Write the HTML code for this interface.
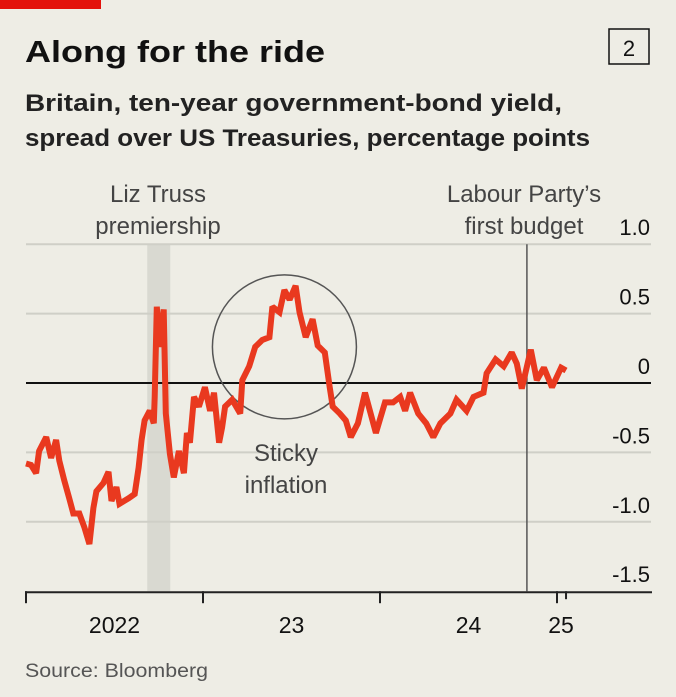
<!DOCTYPE html>
<html><head><meta charset="utf-8"><style>
html,body{margin:0;padding:0;background:#eeede5;}
svg{display:block;font-family:"Liberation Sans",sans-serif;}
</style></head><body>
<svg id="c" width="676" height="697" viewBox="0 0 676 697">
<rect width="676" height="697" fill="#eeede5"/>
<rect x="0" y="0" width="101" height="9" fill="#e3120b"/>
<text x="25" y="62" font-size="31" font-weight="bold" fill="#111" textLength="300" lengthAdjust="spacingAndGlyphs">Along for the ride</text>
<rect x="609" y="29" width="40" height="35" fill="none" stroke="#111" stroke-width="1.5"/>
<text x="629" y="56" font-size="22" text-anchor="middle" fill="#111">2</text>
<text x="25" y="111" font-size="24" font-weight="bold" fill="#222" textLength="537" lengthAdjust="spacingAndGlyphs">Britain, ten-year government-bond yield,</text>
<text x="25" y="146" font-size="24" font-weight="bold" fill="#222" textLength="565" lengthAdjust="spacingAndGlyphs">spread over US Treasuries, percentage points</text>
<g id="plot"></g>
<text x="25" y="677" font-size="19" fill="#555" textLength="183" lengthAdjust="spacingAndGlyphs">Source: Bloomberg</text>
</svg>
<script>
const dates=[2022.000,2022.028,2022.057,2022.074,2022.114,2022.142,2022.170,2022.188,2022.216,2022.244,2022.267,2022.301,2022.330,2022.358,2022.381,2022.398,2022.438,2022.466,2022.483,2022.511,2022.528,2022.580,2022.614,2022.636,2022.653,2022.670,2022.699,2022.722,2022.727,2022.739,2022.756,2022.778,2022.790,2022.813,2022.835,2022.864,2022.892,2022.909,2022.926,2022.949,2022.977,2023.011,2023.040,2023.062,2023.091,2023.108,2023.125,2023.165,2023.210,2023.222,2023.261,2023.295,2023.335,2023.375,2023.392,2023.432,2023.460,2023.489,2023.523,2023.545,2023.580,2023.619,2023.648,2023.688,2023.716,2023.733,2023.773,2023.807,2023.835,2023.875,2023.915,2023.943,2023.977,2024.028,2024.074,2024.114,2024.142,2024.170,2024.216,2024.261,2024.301,2024.341,2024.398,2024.432,2024.489,2024.528,2024.585,2024.602,2024.653,2024.699,2024.744,2024.773,2024.801,2024.852,2024.886,2024.926,2024.972,2025.023,2025.051];
const spread=[-0.58,-0.59,-0.65,-0.49,-0.39,-0.54,-0.41,-0.56,-0.70,-0.83,-0.94,-0.94,-1.04,-1.16,-0.90,-0.78,-0.72,-0.64,-0.85,-0.75,-0.87,-0.83,-0.80,-0.61,-0.41,-0.27,-0.20,-0.29,-0.10,0.55,0.26,0.53,-0.22,-0.51,-0.68,-0.49,-0.65,-0.36,-0.43,-0.10,-0.17,-0.03,-0.20,-0.07,-0.43,-0.32,-0.17,-0.12,-0.22,0.02,0.12,0.26,0.31,0.33,0.55,0.51,0.67,0.60,0.70,0.51,0.33,0.46,0.27,0.22,-0.03,-0.17,-0.22,-0.27,-0.39,-0.29,-0.07,-0.20,-0.36,-0.14,-0.14,-0.10,-0.20,-0.07,-0.22,-0.29,-0.39,-0.29,-0.22,-0.12,-0.20,-0.10,-0.07,0.07,0.17,0.12,0.22,0.14,-0.04,0.24,0.02,0.11,-0.03,0.11,0.09];
const yTicks=[1.0,0.5,0,-0.5,-1.0,-1.5];
const yTickLabels=["1.0","0.5","0","-0.5","-1.0","-1.5"];
const xTicks=[2022,2023,2024,2025];
const xTickLabels=["2022","23","24","25"];
const trussBand=[2022.685,2022.815];
const budgetDate=2024.83;

const NS="http://www.w3.org/2000/svg";
const X0=26,PX=177,Y0=383,PY=138.8;
const xs=d=>X0+(d-2022)*PX;
const ys=v=>Y0-v*PY;
const g=document.getElementById('plot');
function mk(t,a,p){const e=document.createElementNS(NS,t);for(const k in a)e.setAttribute(k,a[k]);(p||g).appendChild(e);return e;}

const band=mk('rect',{x:xs(trussBand[0]),y:ys(1.0),width:xs(trussBand[1])-xs(trussBand[0]),height:ys(-1.5)-ys(1.0),fill:'#d9d9d1'});



yTicks.forEach((v,i)=>{
  if(v===-1.5)return;
  const l=mk('line',{x1:X0,x2:651,y1:ys(v),y2:ys(v),stroke:v===0?'#111':'#cfcfc7','stroke-width':2});
  
  
});
yTicks.forEach((v,i)=>{
  const t=mk('text',{x:650,y:ys(v)-9,'font-size':22,'text-anchor':'end',fill:'#111'});
  t.textContent=yTickLabels[i];
  
  
});

const bl=mk('line',{x1:xs(budgetDate),x2:xs(budgetDate),y1:ys(1.0),y2:ys(-1.5),stroke:'#555','stroke-width':1.5});



const circ=mk('circle',{cx:xs(2023.46),cy:ys(0.26),r:72,fill:'none',stroke:'#555','stroke-width':1.5});



let d='';dates.forEach((dt,i)=>{d+=(i?'L':'M')+xs(dt).toFixed(1)+','+ys(spread[i]).toFixed(1);});
const line=mk('path',{d:d,fill:'none',stroke:'#e9391f','stroke-width':6,'stroke-linejoin':'miter','stroke-miterlimit':2});



const ax=mk('line',{x1:X0-1,x2:652,y1:ys(-1.5)+1,y2:ys(-1.5)+1,stroke:'#222','stroke-width':2});


xTicks.forEach((v,i)=>{
  const tk=mk('line',{x1:xs(v),x2:xs(v),y1:ys(-1.5),y2:ys(-1.5)+12,stroke:'#222','stroke-width':2});
  
  
  const cx=i<xTicks.length-1?(xs(v)+xs(xTicks[i+1]))/2:xs(v)+4;
  const t=mk('text',{x:cx,y:633,'font-size':23,'text-anchor':'middle',fill:'#111'});
  t.textContent=xTickLabels[i];
  
  
});
const et=mk('line',{x1:xs(dates[dates.length-1]),x2:xs(dates[dates.length-1]),y1:ys(-1.5),y2:ys(-1.5)+8,stroke:'#222','stroke-width':2});



function label(lines,x,y,name){
  lines.forEach((s,i)=>{
    const t=mk('text',{x:x,y:y+i*32,'font-size':24,'text-anchor':'middle',fill:'#444'});
    t.textContent=s;
    
    
  });
}
label(['Liz Truss','premiership'],158,202,'truss-annotation');
label(['Labour Party’s','first budget'],524,202,'budget-annotation');
label(['Sticky','inflation'],286,461,'sticky-inflation-annotation');
</script>
</body></html>
